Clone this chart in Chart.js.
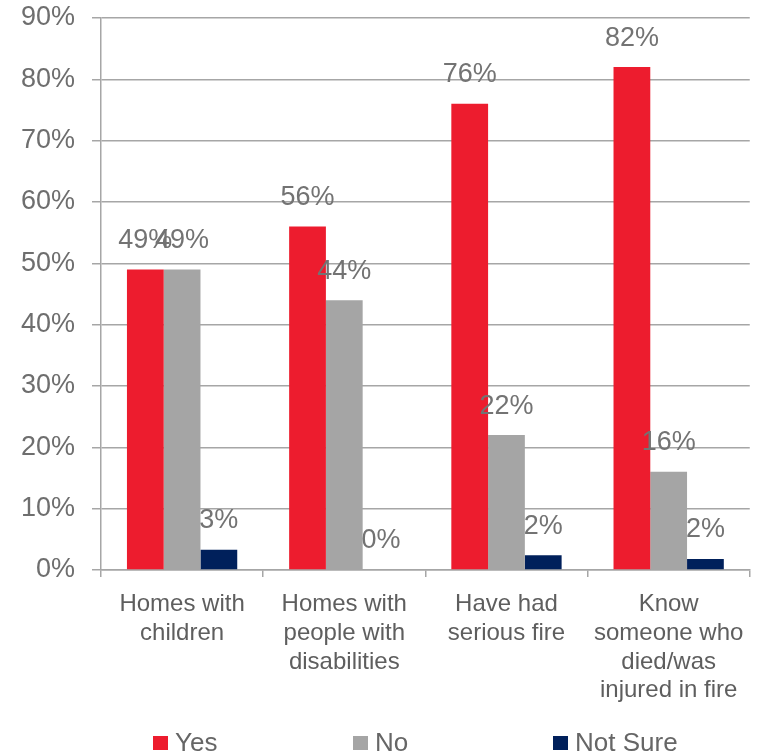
<!DOCTYPE html>
<html>
<head>
<meta charset="utf-8">
<script src="https://cdn.jsdelivr.net/npm/chart.js@4/dist/chart.umd.min.js"></script>
<style>
  html, body { margin: 0; padding: 0; background: #fff; }
  #wrap { position: relative; width: 757px; height: 756px; }
  #legend {
    position: absolute; left: 153px; top: 727px;
    display: flex; font-family: "Liberation Sans", Arial, sans-serif;
    font-size: 26px; color: #666;
  }
  #legend .item { width: 200px; display: flex; align-items: center; }
  #legend .box { width: 15px; height: 14px; margin-right: 7px; }
</style>
</head>
<body>
<div id="wrap">
  <canvas id="c"></canvas>
  <div id="legend"></div>
</div>
<script>
// categories and series values (percent)
const categories = [
  ['Homes with', 'children'],
  ['Homes with', 'people with', 'disabilities'],
  ['Have had', 'serious fire'],
  ['Know', 'someone who', 'died/was', 'injured in fire']
];
const seriesNames = ['Yes', 'No', 'Not Sure'];
const seriesColors = ['#ED1C2E', '#A5A5A5', '#00205B'];
const yesValues = [49, 56, 76, 82];
const noValues = [49, 44, 22, 16];
const notSureValues = [3.3, 0, 2.4, 1.8];
const yTicks = [0, 10, 20, 30, 40, 50, 60, 70, 80, 90];

const gridColor = '#A6A6A6';
const fontFamily = '"Liberation Sans", Arial, sans-serif';

// draws the value label above each bar
const barLabels = {
  id: 'barLabels',
  afterDatasetsDraw(chart) {
    const ctx = chart.ctx;
    ctx.save();
    ctx.font = '27px ' + fontFamily;
    ctx.fillStyle = '#737373';
    ctx.textAlign = 'center';
    ctx.textBaseline = 'middle';
    chart.data.datasets.forEach((ds, i) => {
      const meta = chart.getDatasetMeta(i);
      meta.data.forEach((bar, j) => {
        ctx.fillText(Math.round(ds.data[j]) + '%', bar.x, bar.y - 29);
      });
    });
    ctx.restore();
  }
};

const seriesValues = [yesValues, noValues, notSureValues];

const chart = new Chart(document.getElementById('c'), {
  type: 'bar',
  data: {
    labels: categories,
    datasets: seriesNames.map((name, i) => ({
      label: name,
      data: seriesValues[i],
      backgroundColor: seriesColors[i]
    }))
  },
  options: {
    responsive: true,
    maintainAspectRatio: false,
    animation: false,
    datasets: {
      bar: { barPercentage: 1, categoryPercentage: 0.68 }
    },
    layout: { padding: { top: 18, right: 5, left: 0, bottom: 0 } },
    scales: {
      y: {
        min: 0,
        max: 90,
        afterBuildTicks: (s) => { s.ticks = yTicks.map(v => ({ value: v })); },
        afterFit: (s) => { s.width = 101; s.paddingTop = 0; s.paddingBottom = 0; },
        ticks: {
          callback: (v) => v + '%',
          color: '#6E6E6E',
          padding: 17,
          font: { size: 27, family: fontFamily }
        },
        grid: { color: gridColor, lineWidth: 1.5, tickLength: 9 },
        border: { color: gridColor, width: 1.5 }
      },
      x: {
        afterFit: (s) => { s.height = 186; },
        ticks: {
          color: '#5E5E5E',
          padding: 13,
          maxRotation: 0,
          autoSkip: false,
          font: { size: 24, family: fontFamily, lineHeight: 1.2 }
        },
        grid: { color: gridColor, lineWidth: 1.5, drawOnChartArea: false, tickLength: 7, offset: true },
        border: { color: gridColor, width: 1.5 }
      }
    },
    plugins: {
      legend: { display: false },
      tooltip: { enabled: false }
    }
  },
  plugins: [barLabels]
});

// legend built from the chart's datasets
const legendEl = document.getElementById('legend');
chart.data.datasets.forEach(ds => {
  const item = document.createElement('div');
  item.className = 'item';
  const box = document.createElement('span');
  box.className = 'box';
  box.style.background = ds.backgroundColor;
  item.appendChild(box);
  item.appendChild(document.createTextNode(ds.label));
  legendEl.appendChild(item);
});
</script>
</body>
</html>
